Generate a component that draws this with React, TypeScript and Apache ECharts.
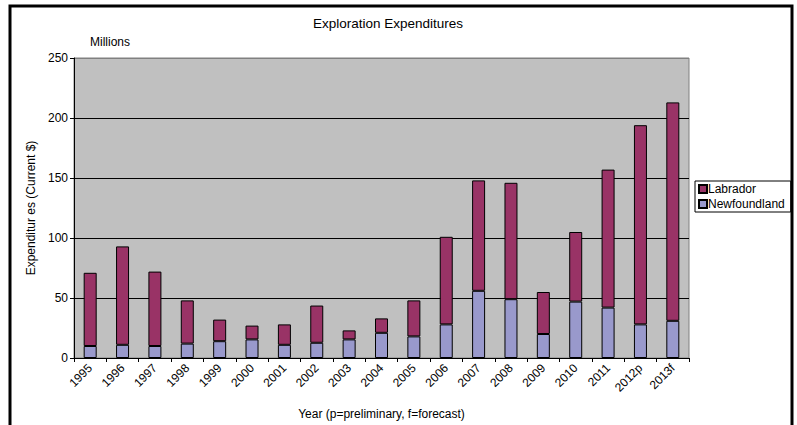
import React, { useEffect, useRef } from "react";
import * as echarts from "echarts";

const categories = ["1995","1996","1997","1998","1999","2000","2001","2002","2003","2004","2005","2006","2007","2008","2009","2010","2011","2012p","2013f"];
const newfoundland = [10, 11, 10, 12, 14, 15.5, 11, 12.7, 15.5, 21, 18, 28, 56, 49, 20, 47, 42, 28, 31];
const labrador = [61, 82, 62, 36, 18, 11.5, 17, 31, 7.5, 12, 30, 73, 92, 97, 35, 58, 115, 166, 182];
const yTicks = { min: 0, max: 250, interval: 50 };

const FONT = "Liberation Sans, Arial, sans-serif";

export default function App() {
  const ref = useRef<HTMLDivElement>(null);
  useEffect(() => {
    if (!ref.current) return;
    const chart = echarts.init(ref.current, null, { renderer: "svg" });
    chart.setOption({
      animation: false,
      backgroundColor: "#fff",
      textStyle: { fontFamily: FONT },
      title: {
        text: "Exploration Expenditures",
        left: 383,
        top: 11,
        textAlign: "center",
        textStyle: { fontSize: 13.5, fontWeight: "normal", color: "#000", fontFamily: FONT },
      },
      legend: {
        data: ["Labrador", "Newfoundland"],
        orient: "vertical",
        left: 695,
        top: 181,
        itemWidth: 8,
        itemHeight: 8,
        itemGap: 3,
        padding: [2, 6, 2, 3],
        borderColor: "#000",
        borderWidth: 1,
        icon: "rect",
        textStyle: { fontSize: 12, color: "#000", fontFamily: FONT, padding: [0, 0, 0, -4] },
      },
      grid: {
        left: 74,
        top: 58,
        width: 615,
        height: 300,
        show: true,
        backgroundColor: "#C0C0C0",
        borderColor: "#808080",
        borderWidth: 1,
      },
      graphic: [
        {
          type: "rect",
          shape: { x: 10, y: 6, width: 782, height: 440 },
          style: { fill: "none", stroke: "#000", lineWidth: 3 },
          silent: true,
        },
        {
          type: "text",
          x: 90,
          y: 36,
          style: { text: "Millions", fontSize: 12, fill: "#000", fontFamily: FONT },
        },
      ],
      xAxis: {
        type: "category",
        data: categories,
        name: "Year (p=preliminary, f=forecast)",
        nameLocation: "middle",
        nameGap: 50,
        nameTextStyle: { fontSize: 12, color: "#000", fontFamily: FONT },
        axisLine: { lineStyle: { color: "#000", width: 1 } },
        axisTick: { show: true, alignWithLabel: false, length: 4, lineStyle: { color: "#000" } },
        axisLabel: { rotate: 45, fontSize: 12, color: "#000", fontFamily: FONT, margin: 8, interval: 0 },
      },
      yAxis: {
        type: "value",
        min: yTicks.min,
        max: yTicks.max,
        interval: yTicks.interval,
        name: "Expenditur es (Current $)",
        nameLocation: "middle",
        nameGap: 37,
        nameTextStyle: { fontSize: 12, color: "#000", fontFamily: FONT },
        axisLine: { show: true, lineStyle: { color: "#000", width: 1 } },
        axisTick: { show: true, length: 4, lineStyle: { color: "#000" } },
        axisLabel: { fontSize: 12, color: "#000", fontFamily: FONT, margin: 6 },
        splitLine: {
          show: true,
          lineStyle: { color: ["#000", "#000", "#000", "#000", "#000", "#808080"], width: 1 },
        },
      },
      series: [
        {
          name: "Newfoundland",
          type: "bar",
          stack: "total",
          barWidth: 13,
          data: newfoundland,
          itemStyle: { color: "#9999CC", borderColor: "#000", borderWidth: 1 },
        },
        {
          name: "Labrador",
          type: "bar",
          stack: "total",
          barWidth: 13,
          data: labrador,
          itemStyle: { color: "#993366", borderColor: "#000", borderWidth: 1 },
        },
      ],
    });
    return () => chart.dispose();
  }, []);
  return (
    <div
      ref={ref}
      style={{ position: "fixed", left: 0, top: 0, width: 797, height: 425 }}
    />
  );
}
